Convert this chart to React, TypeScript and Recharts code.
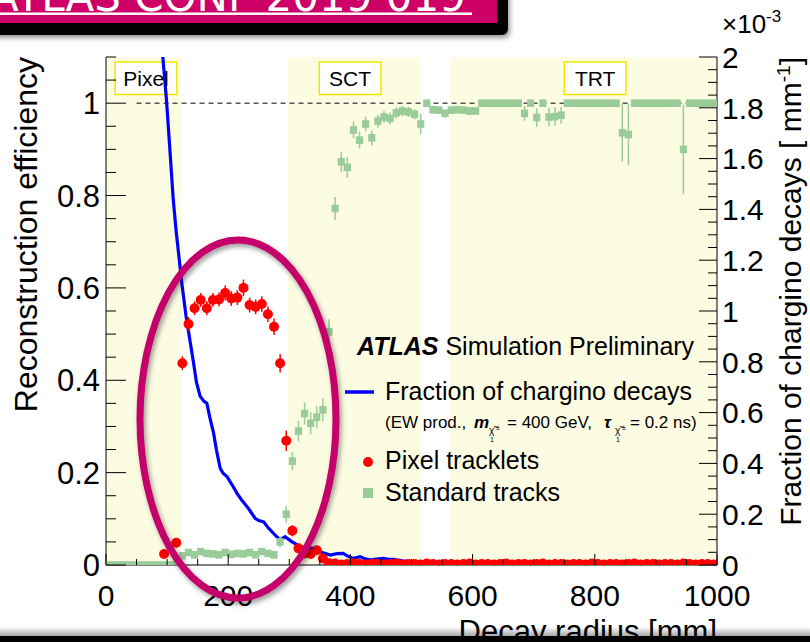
import {
  ComposedChart,
  ErrorBar,
  Line,
  ReferenceArea,
  ReferenceLine,
  Scatter,
  XAxis,
  YAxis,
} from "recharts";

const FONT = '"Liberation Sans", Arial, Helvetica, sans-serif';

// Detector regions (decay radius, mm)
const regions = [
  { name: "Pixel", r1: 0, r2: 123, box: [15, 116] },
  { name: "SCT", r1: 298, r2: 515, box: [349, 450] },
  { name: "TRT", r1: 563, r2: 1000, box: [750, 851] },
];

// Fraction of chargino decays [1e-3 / mm]
const fracR = [
  90, 93, 99, 105, 110, 115, 120, 124, 131, 137, 143, 148, 154, 160, 165, 170,
  176, 181, 187, 192, 198, 208, 215, 222, 233, 244, 250, 258, 266, 274, 285,
  293, 304, 318, 330, 339, 350, 367, 378, 388, 397, 405, 416, 424, 432, 443,
  454, 462, 470, 485, 498, 520, 560, 620, 700, 800, 900, 1000,
];
const fracVal = [
  2.12, 2.0, 1.83, 1.62, 1.44, 1.31, 1.2, 1.11, 0.98, 0.89, 0.8, 0.72, 0.665,
  0.645, 0.637, 0.58, 0.52, 0.45, 0.38, 0.36, 0.348, 0.309, 0.28, 0.256, 0.223,
  0.184, 0.175, 0.17, 0.145, 0.125, 0.098, 0.111, 0.092, 0.072, 0.068, 0.066,
  0.052, 0.039, 0.045, 0.046, 0.033, 0.026, 0.033, 0.024, 0.02, 0.023, 0.026,
  0.022, 0.022, 0.016, 0.013, 0.01, 0.008, 0.006, 0.004, 0.003, 0.002, 0.002,
];

// Pixel tracklets efficiency, 10 mm bins
const trackletR = [
  95, 115, 125, 135, 145, 155, 165, 175, 185, 195, 205, 215, 225, 235, 245,
  255, 265, 275, 285, 295, 305, 315, 325, 335, 345, 355, 365, 375, 385, 395,
  405, 415, 425, 435, 445, 455, 465, 475, 485, 495, 505, 515, 525, 535, 545,
  555, 565, 575, 585, 595, 605, 615, 625, 635, 645, 655, 665, 675, 685, 695,
  705, 715, 725, 735, 745, 755, 765, 775, 785, 795, 805, 815, 825, 835, 845,
  855, 865, 875, 885, 895, 905, 915, 925, 935, 945, 955, 965, 975, 985, 995,
];
const trackletEff = [
  0.024, 0.048, 0.437, 0.522, 0.556, 0.574, 0.556, 0.574, 0.575, 0.589, 0.577,
  0.579, 0.6, 0.563, 0.559, 0.565, 0.543, 0.516, 0.437, 0.269, 0.074, 0.036,
  0.025, 0.024, 0.032, 0.014, 0.004, 0.003, 0.001, 0.002, 0.004, 0.002, 0.001,
  0.003, 0.002, 0.001, 0.002, 0.003, 0.001, 0.002, 0.002, 0.001, 0.003, 0.002,
  0.001, 0.002, 0.002, 0.001, 0.002, 0.003, 0.001, 0.002, 0.002, 0.001, 0.002,
  0.003, 0.001, 0.002, 0.002, 0.001, 0.002, 0.003, 0.001, 0.002, 0.002, 0.001,
  0.002, 0.002, 0.001, 0.003, 0.002, 0.001, 0.002, 0.002, 0.001, 0.002, 0.003,
  0.001, 0.002, 0.002, 0.001, 0.002, 0.002, 0.001, 0.003, 0.002, 0.001, 0.002,
  0.002, 0.001,
];
const trackletErr = [
  0.008, 0.01, 0.015, 0.015, 0.015, 0.015, 0.015, 0.015, 0.015, 0.016, 0.016,
  0.016, 0.018, 0.016, 0.016, 0.017, 0.017, 0.018, 0.02, 0.022, 0.012, 0.01,
  0.008, 0.008, 0.008, 0.006, 0.004, 0.002, 0.002, 0.002, 0.002, 0.002, 0.002,
  0.002, 0.002, 0.002, 0.002, 0.002, 0.002, 0.002, 0.002, 0.002, 0.002, 0.002,
  0.002, 0.002, 0.002, 0.002, 0.002, 0.002, 0.002, 0.002, 0.002, 0.002, 0.002,
  0.002, 0.002, 0.002, 0.002, 0.002, 0.002, 0.002, 0.002, 0.002, 0.002, 0.002,
  0.002, 0.002, 0.002, 0.002, 0.002, 0.002, 0.002, 0.002, 0.002, 0.002, 0.002,
  0.002, 0.002, 0.002, 0.002, 0.002, 0.002, 0.002, 0.002, 0.002, 0.002, 0.002,
  0.002, 0.002,
];

// Standard tracks efficiency, 10 mm bins
const trackR = [
  5, 15, 25, 35, 45, 55, 65, 75, 85, 95, 105, 115, 125, 135, 145, 155, 165,
  175, 185, 195, 205, 215, 225, 235, 245, 255, 265, 275, 285, 295, 305, 315,
  325, 335, 345, 355, 365, 375, 385, 395, 405, 415, 425, 435, 445, 455, 465,
  475, 485, 495, 505, 515, 525, 535, 545, 555, 565, 575, 585, 595, 605, 615,
  625, 635, 645, 655, 665, 675, 685, 695, 705, 715, 725, 735, 745, 755, 765,
  775, 785, 795, 805, 815, 825, 835, 845, 855, 865, 875, 885, 895, 905, 915,
  925, 935, 945, 955, 965, 975, 985, 995,
];
const trackEff = [
  0, 0, 0, 0, 0, 0, 0, 0, 0, 0, 0, 0,
  0.02, 0.027, 0.022, 0.029, 0.025, 0.024, 0.022, 0.027, 0.023, 0.025, 0.024,
  0.027, 0.022, 0.029, 0.025, 0.022, 0.05, 0.11,
  0.225, 0.29, 0.328, 0.307, 0.32, 0.336, 0.505, 0.772, 0.873, 0.861,
  0.942, 0.92, 0.955, 0.925, 0.961, 0.97, 0.967, 0.979, 0.983, 0.981,
  0.976, 0.955, 1, 0.986, 0.985, 0.978, 0.985, 0.986, 0.985, 0.983,
  0.983, 1, 1, 1, 1, 1, 1, 1, 0.978, 1,
  0.969, 1, 0.97, 0.971, 0.974, 1, 1, 1, 1, 1,
  1, 1, 1, 1, 0.936, 0.932, 1, 1, 1, 1,
  1, 1, 1, 1, 0.9, 1, 1, 1, 1, 1,
];
const trackErr = [
  0, 0, 0, 0, 0, 0, 0, 0, 0, 0, 0, 0,
  0.006, 0.006, 0.006, 0.006, 0.006, 0.006, 0.006, 0.006, 0.006, 0.006, 0.006,
  0.006, 0.006, 0.006, 0.006, 0.006, 0.012, 0.018,
  0.02, 0.022, 0.024, 0.024, 0.024, 0.025, 0.027, 0.025, 0.022, 0.022,
  0.018, 0.018, 0.016, 0.016, 0.014, 0.013, 0.013, 0.012, 0.011, 0.011,
  0.011, 0.022, 0.004, 0.008, 0.008, 0.009, 0.008, 0.008, 0.008, 0.008,
  0.008, 0, 0, 0, 0, 0, 0, 0, 0.016, 0,
  0.02, 0, 0.02, 0.02, 0.018, 0, 0, 0, 0, 0,
  0, 0, 0, 0, 0.062, 0.066, 0, 0, 0, 0,
  0, 0, 0, 0, 0.097, 0, 0, 0, 0, 0,
];

// Axis ticks
const xTicks = [
  0, 50, 100, 150, 200, 250, 300, 350, 400, 450, 500, 550, 600, 650, 700, 750,
  800, 850, 900, 950, 1000,
];
const effTicks = [
  0, 0.05, 0.1, 0.15, 0.2, 0.25, 0.3, 0.35, 0.4, 0.45, 0.5, 0.55, 0.6, 0.65,
  0.7, 0.75, 0.8, 0.85, 0.9, 0.95, 1, 1.05, 1.1,
];
const fracTicks = [
  0, 0.05, 0.1, 0.15, 0.2, 0.25, 0.3, 0.35, 0.4, 0.45, 0.5, 0.55, 0.6, 0.65,
  0.7, 0.75, 0.8, 0.85, 0.9, 0.95, 1, 1.05, 1.1, 1.15, 1.2, 1.25, 1.3, 1.35,
  1.4, 1.45, 1.5, 1.55, 1.6, 1.65, 1.7, 1.75, 1.8, 1.85, 1.9, 1.95, 2,
];

const fracData = fracR.map((r, i) => ({ r, f: fracVal[i] }));
const trackletData = trackletR.map((r, i) => ({ r, y: trackletEff[i], e: trackletErr[i] }));
const trackData = trackR.map((r, i) => ({ r, y: trackEff[i], e: trackErr[i] }));

const onStep = (v: number, step: number) =>
  Math.abs(v / step - Math.round(v / step)) < 1e-6;
const fmt = (v: number) => String(Number(v.toFixed(2)));

function LeftTick(p: any) {
  const v = p.payload.value;
  const major = onStep(v, 0.2);
  return (
    <g>
      <line x1={p.x} x2={p.x + (major ? 20 : 10)} y1={p.y} y2={p.y} stroke="#000" />
      {major && (
        <text x={p.x - 6} y={p.y} dy="0.36em" textAnchor="end" fontSize={31} fontFamily={FONT} fill="#000">
          {fmt(v)}
        </text>
      )}
    </g>
  );
}

function RightTick(p: any) {
  const v = p.payload.value;
  const major = onStep(v, 0.2);
  return (
    <g>
      <line x1={p.x - (major ? 18 : 9)} x2={p.x} y1={p.y} y2={p.y} stroke="#000" />
      {major && (
        <text x={p.x + 5} y={p.y} dy="0.36em" textAnchor="start" fontSize={30} fontFamily={FONT} fill="#000">
          {fmt(v)}
        </text>
      )}
    </g>
  );
}

function BottomTick(p: any) {
  const v = p.payload.value;
  const major = onStep(v, 200);
  return (
    <g>
      <line x1={p.x} x2={p.x} y1={p.y} y2={p.y - (major ? 11 : 6)} stroke="#000" />
      {major && (
        <text x={p.x} y={p.y + 41} textAnchor="middle" fontSize={30} fontFamily={FONT} fill="#000">
          {v}
        </text>
      )}
    </g>
  );
}

function TopTick(p: any) {
  const major = onStep(p.payload.value, 200);
  return <line x1={p.x} x2={p.x} y1={p.y} y2={p.y + (major ? 12 : 7)} stroke="#000" />;
}

const RedDot = (p: any) => <circle cx={p.cx} cy={p.cy} r={5} fill="#ff0000" />;
const GreenBox = (p: any) => (
  <rect x={p.cx - 3.6} y={p.cy - 3.8} width={7.2} height={7.6} fill="#99cc99" />
);

export default function App() {
  return (
    <div
      style={{
        position: "absolute",
        left: 0,
        top: 0,
        width: 810,
        height: 642,
        background: "#fff",
        overflow: "hidden",
        fontFamily: FONT,
      }}
    >
      <ComposedChart width={810} height={642} margin={{ top: 57, right: 0, bottom: 0, left: 0 }}>
        <XAxis
          xAxisId="b"
          dataKey="r"
          type="number"
          domain={[0, 1000]}
          ticks={xTicks}
          interval={0}
          height={77}
          tickSize={0}
          tickMargin={0}
          tickLine={false}
          tick={BottomTick}
          axisLine={{ stroke: "#000" }}
          allowDataOverflow
        />
        <XAxis
          xAxisId="t"
          orientation="top"
          dataKey="r"
          type="number"
          domain={[0, 1000]}
          ticks={xTicks}
          interval={0}
          height={0}
          tickSize={0}
          tickMargin={0}
          tickLine={false}
          tick={TopTick}
          axisLine={{ stroke: "#000" }}
          allowDataOverflow
        />
        <YAxis
          yAxisId="eff"
          dataKey="y"
          type="number"
          domain={[0, 1.1]}
          ticks={effTicks}
          interval={0}
          width={106}
          tickSize={0}
          tickMargin={0}
          tickLine={false}
          tick={LeftTick}
          axisLine={{ stroke: "#000" }}
          allowDataOverflow
        />
        <YAxis
          yAxisId="frac"
          orientation="right"
          dataKey="f"
          type="number"
          domain={[0, 2]}
          ticks={fracTicks}
          interval={0}
          width={93}
          tickSize={0}
          tickMargin={0}
          tickLine={false}
          tick={RightTick}
          axisLine={{ stroke: "#000" }}
          allowDataOverflow
        />

        {regions.map((g) => (
          <ReferenceArea
            key={g.name + "-band"}
            xAxisId="b"
            yAxisId="eff"
            x1={g.r1}
            x2={g.r2}
            y1={0}
            y2={1.1}
            fill="#fcfce3"
            fillOpacity={1}
            stroke="none"
          />
        ))}
        {regions.map((g) => (
          <ReferenceArea
            key={g.name + "-box"}
            xAxisId="b"
            yAxisId="eff"
            x1={g.box[0]}
            x2={g.box[1]}
            y1={1.019}
            y2={1.089}
            fill="#fff"
            fillOpacity={1}
            stroke="#f2e600"
            strokeWidth={1.5}
            label={{ value: g.name, position: "center", fontSize: 21, fill: "#000", fontFamily: FONT }}
          />
        ))}
        <ReferenceLine
          xAxisId="b"
          yAxisId="eff"
          segment={[
            { x: 50, y: 1 },
            { x: 1000, y: 1 },
          ]}
          stroke="#555"
          strokeWidth={1.5}
          strokeDasharray="5 4"
        />

        <Line
          xAxisId="b"
          yAxisId="frac"
          data={fracData}
          dataKey="f"
          type="linear"
          stroke="#0000ff"
          strokeWidth={3.2}
          dot={false}
          activeDot={false}
          isAnimationActive={false}
        />
        <Scatter
          xAxisId="b"
          yAxisId="eff"
          data={trackletData}
          dataKey="y"
          shape={RedDot}
          isAnimationActive={false}
        >
          <ErrorBar dataKey="e" direction="y" width={0} stroke="#ff0000" strokeWidth={1.5} />
        </Scatter>
        <Scatter
          xAxisId="b"
          yAxisId="eff"
          data={trackData}
          dataKey="y"
          shape={GreenBox}
          isAnimationActive={false}
        >
          <ErrorBar dataKey="e" direction="y" width={0} stroke="#99cc99" strokeWidth={1.5} />
        </Scatter>
      </ComposedChart>

      <svg
        width={810}
        height={642}
        style={{ position: "absolute", left: 0, top: 0, pointerEvents: "none" }}
        fontFamily={FONT}
      >
        <defs>
          <filter id="shadow" x="-20%" y="-20%" width="140%" height="160%">
            <feDropShadow dx="2" dy="3" stdDeviation="2.5" floodColor="#000" floodOpacity="0.4" />
          </filter>
          <linearGradient id="fade" x1="0" y1="0" x2="0" y2="1">
            <stop offset="0" stopColor="#000" stopOpacity="0" />
            <stop offset="1" stopColor="#000" stopOpacity="0.35" />
          </linearGradient>
          <clipPath id="bannerClip">
            <rect x={0} y={0} width={497} height={23} />
          </clipPath>
        </defs>

        {/* conference banner */}
        <rect x={-10} y={-10} width={518} height={45} rx={6} fill="#000" filter="url(#shadow)" />
        <rect x={0} y={0} width={497} height={23} fill="#cc0066" />
        <g clipPath="url(#bannerClip)">
          <text x={-10} y={11} fontSize={42} fill="#fff" fontFamily="DejaVu Sans">
            ATLAS CONF 2019 019
          </text>
        </g>
        <rect x={0} y={12.5} width={472} height={2.5} fill="#fff" />

        {/* axis titles */}
        <text transform="translate(37,57) rotate(-90)" textAnchor="end" fontSize={32} fill="#000">
          Reconstruction efficiency
        </text>
        <text transform="translate(801,57) rotate(-90)" textAnchor="end" fontSize={30} fill="#000">
          Fraction of chargino decays [ mm
          <tspan dy={-11} fontSize={19}>-1</tspan>
          <tspan dy={11}>]</tspan>
        </text>
        <text x={722} y={33} fontSize={26} fill="#000">
          ×10
          <tspan dy={-11} fontSize={17}>-3</tspan>
        </text>

        {/* legend */}
        <text x={357} y={355} fontSize={25} fill="#000">
          <tspan fontWeight="bold" fontStyle="italic">ATLAS</tspan>
          <tspan> Simulation Preliminary</tspan>
        </text>
        <line x1={345} x2={374} y1={392} y2={392} stroke="#0000ff" strokeWidth={3.5} />
        <text x={385} y={400} fontSize={25} fill="#000">Fraction of chargino decays</text>
        <text x={385} y={428} fontSize={17} fill="#000">(EW prod.,</text>
        <text x={474} y={428} fontSize={17} fontWeight="bold" fontStyle="italic" fill="#000">m</text>
        <text x={489} y={434} fontSize={10} fill="#000">χ̃</text>
        <text x={496} y={430} fontSize={7} fill="#000">±</text>
        <text x={490} y={442} fontSize={7} fill="#000">1</text>
        <text x={507} y={428} fontSize={17} fill="#000">= 400 GeV,</text>
        <text x={604} y={428} fontSize={17} fontWeight="bold" fontStyle="italic" fill="#000">τ</text>
        <text x={615} y={434} fontSize={10} fill="#000">χ̃</text>
        <text x={622} y={430} fontSize={7} fill="#000">±</text>
        <text x={616} y={442} fontSize={7} fill="#000">1</text>
        <text x={630} y={428} fontSize={17} fill="#000">= 0.2 ns)</text>
        <circle cx={368} cy={462} r={5} fill="#ff0000" />
        <text x={385} y={469} fontSize={25} fill="#000">Pixel tracklets</text>
        <rect x={363} y={488} width={10} height={10} fill="#99cc99" />
        <text x={385} y={501} fontSize={25} fill="#000">Standard tracks</text>

        {/* highlight ring around the pixel-tracklet bump */}
        <ellipse
          cx={238}
          cy={419}
          rx={98}
          ry={179}
          fill="none"
          stroke="#c4006a"
          strokeWidth={7}
          filter="url(#shadow)"
        />

        {/* footer */}
        <text x={717} y={642} textAnchor="end" fontSize={31} fill="#000">
          Decay radius [mm]
        </text>
        <rect x={0} y={627} width={810} height={9} fill="url(#fade)" />
        <rect x={0} y={636} width={810} height={6} fill="#000" />
      </svg>
    </div>
  );
}
